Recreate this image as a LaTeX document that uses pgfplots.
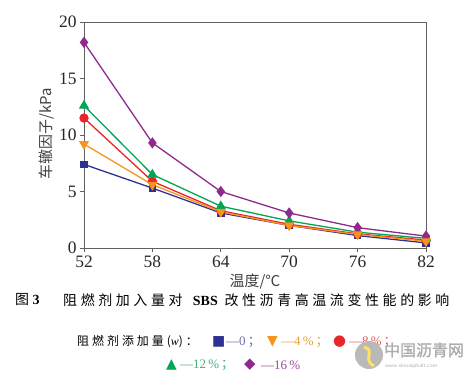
\documentclass[border=0pt]{standalone}
\usepackage{pgfplots}
\pgfplotsset{compat=1.18}
\usepackage{fontspec}
\setmainfont{Liberation Serif}
\newfontfamily\cjk{Noto Sans CJK SC}
\newfontfamily\cjksp[LetterSpace=25]{Noto Sans CJK SC}
\newfontfamily\cjkspb[LetterSpace=26]{Noto Sans CJK SC}
\newfontfamily\sym{DejaVu Sans}
\newfontfamily\wm[FakeBold=1.5]{Noto Sans CJK SC}
\definecolor{cblue}{HTML}{2E3192}
\definecolor{corange}{HTML}{F7941D}
\definecolor{cred}{HTML}{E8262A}
\definecolor{cgreen}{HTML}{00A651}
\definecolor{cpurple}{HTML}{8E2A8E}
\definecolor{tblue}{HTML}{6A6AAE}
\definecolor{torange}{HTML}{E8A040}
\definecolor{tred}{HTML}{E05A5A}
\definecolor{tgreen}{HTML}{40B078}
\definecolor{tpurple}{HTML}{9A4A9A}
\begin{document}
\begin{tikzpicture}
\path (0bp,0bp) rectangle (472bp,-388bp);
\begin{axis}[
  at={(84bp,-248bp)}, anchor=south west,
  scale only axis, width=342bp, height=226bp,
  xmin=52, xmax=82, ymin=0, ymax=20,
  xtick={52,58,64,70,76,82}, ytick={0,5,10,15,20},
  xtick pos=bottom, ytick pos=left,
  tick align=outside, major tick length=4bp,
  axis line style={draw=gray!75!black, line width=0.9pt},
  tick style={draw=gray!75!black, line width=0.9pt},
  /pgf/number format/assume math mode=true,
  tick label style={font=\fontsize{17.5}{17.5}\selectfont, text=black!85},
  ylabel={\cjk 车辙因子/kPa},
  xlabel={\cjk 温度/℃},
  ylabel style={font=\fontsize{15}{15}\selectfont, text=black!75, at={(axis description cs:-0.11,0.505)}, anchor=center},
  xlabel style={font=\fontsize{15}{15}\selectfont, text=black!75, at={(axis description cs:0.5,-0.15)}, anchor=center},
  every axis plot/.append style={line width=1.3pt},
  clip=false,
]
\addplot[cblue, mark=square*, mark size=3.2bp] coordinates {(52,7.4) (58,5.3) (64,3.1) (70,2.0) (76,1.1) (82,0.45)};
\addplot[cred, mark=*, mark size=4bp] coordinates {(52,11.5) (58,5.9) (64,3.3) (70,2.1) (76,1.25) (82,0.7)};
\addplot[cgreen, mark=triangle*, mark size=4.6bp] coordinates {(52,12.6) (58,6.5) (64,3.7) (70,2.4) (76,1.4) (82,0.85)};
\addplot[cpurple, mark=diamond*, mark size=4.6bp] coordinates {(52,18.2) (58,9.3) (64,5.0) (70,3.1) (76,1.8) (82,1.05)};
\addplot[corange, mark=triangle*, mark size=4.6bp, mark options={rotate=180}] coordinates {(52,9.2) (58,5.6) (64,3.2) (70,2.0) (76,1.2) (82,0.6)};
\end{axis}
% caption
\node[anchor=west, inner sep=0pt, font=\fontsize{14}{14}\selectfont] at (15bp,-300bp) {{\cjk 图} \textbf{3}};
\node[anchor=west, inner sep=0pt, font=\fontsize{14}{14}\selectfont] at (63bp,-300bp) {\cjkspb 阻燃剂加入量对\ \textbf{\rmfamily SBS}\ 改性沥青高温流变性能的影响};
% legend line 1
\node[anchor=west, inner sep=0pt, font=\fontsize{12}{12}\selectfont] at (77bp,-342bp) {\cjksp 阻燃剂添加量({\rmfamily\itshape w})：};
\node[anchor=west, inner sep=0pt, font=\fontsize{14}{14}\selectfont, text=cblue] at (212bp,-342bp) {\sym ■};
\node[anchor=west, inner sep=0pt, font=\fontsize{13}{13}\selectfont, text=tblue] at (226bp,-342bp) {—0\,{\cjk ；}};
\node[anchor=west, inner sep=0pt, font=\fontsize{14}{14}\selectfont, text=corange] at (267bp,-342bp) {\sym ▼};
\node[anchor=west, inner sep=0pt, font=\fontsize{13}{13}\selectfont, text=torange] at (281bp,-342bp) {—4\,\%\,{\cjk ；}};
\node[anchor=west, inner sep=0pt, font=\fontsize{15}{15}\selectfont, text=cred] at (333bp,-342bp) {\sym ●};
\node[anchor=west, inner sep=0pt, font=\fontsize{13}{13}\selectfont, text=tred] at (349bp,-342bp) {—8\,\%\,{\cjk ；}};
% legend line 2
\node[anchor=west, inner sep=0pt, font=\fontsize{14}{14}\selectfont, text=cgreen] at (166bp,-365bp) {\sym ▲};
\node[anchor=west, inner sep=0pt, font=\fontsize{13}{13}\selectfont, text=tgreen] at (180bp,-365bp) {—12\,\%\,{\cjk ；}};
\node[anchor=west, inner sep=0pt, font=\fontsize{15}{15}\selectfont, text=cpurple] at (244bp,-365bp) {\sym ◆};
\node[anchor=west, inner sep=0pt, font=\fontsize{13}{13}\selectfont, text=tpurple] at (261bp,-365bp) {—16\,\%};
% watermark
\fill[gray!55] (369bp,-355bp) circle (14bp);
\draw[yellow!70!orange!60, line width=3pt] (364bp,-347bp) .. controls (376bp,-350bp) and (362bp,-360bp) .. (374bp,-366bp);
\node[anchor=west, inner sep=0pt, font=\fontsize{16}{16}\selectfont, text=gray!65] at (384bp,-350bp) {\wm 中国沥青网};
\node[anchor=west, inner sep=0pt, font=\fontsize{5.5}{5.5}\selectfont\sffamily, text=gray!65] at (385bp,-366bp) {www.sinoasphalt.com};
\end{tikzpicture}
\end{document}
